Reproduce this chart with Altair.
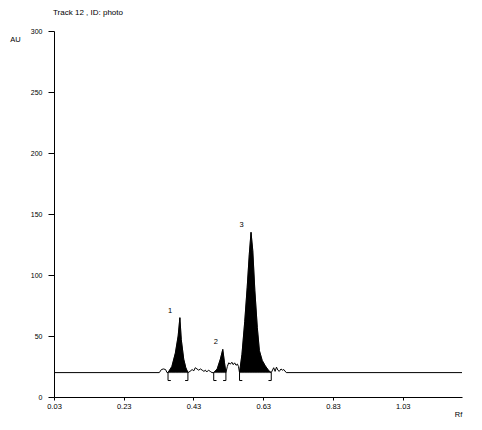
import altair as alt
import pandas as pd

# ---- data ----
rf = [0.03, 0.332, 0.338, 0.344, 0.350, 0.354,
      0.357, 0.368, 0.378, 0.386, 0.391, 0.395, 0.402, 0.408, 0.414,
      0.420, 0.426, 0.431, 0.435, 0.440, 0.445, 0.450, 0.455, 0.460, 0.464, 0.468, 0.473, 0.478, 0.483,
      0.488, 0.498, 0.507, 0.514, 0.519, 0.523,
      0.527, 0.531, 0.536, 0.540, 0.544, 0.548, 0.552, 0.556, 0.559,
      0.562, 0.569, 0.577, 0.584, 0.590, 0.595, 0.600, 0.606, 0.613, 0.619, 0.627, 0.636, 0.646, 0.653,
      0.660, 0.664, 0.668, 0.672, 0.676, 0.681, 0.685, 0.689, 0.696, 1.2]
au = [20, 20, 22.5, 23, 22.5, 20,
      20, 25, 36, 50, 65, 47, 31, 24, 20,
      21, 22.5, 21.5, 24, 23, 22, 23, 22, 21, 22, 20.5, 22, 21, 20,
      20, 23, 31, 39, 28, 20,
      25, 28, 27, 28.5, 26.5, 28, 26, 27, 25,
      20, 35, 62, 90, 117, 135, 120, 87, 57, 38, 30, 25.5, 21.5, 20,
      24, 21, 24.5, 22, 21, 23, 22, 22.5, 20, 20]

peak_id = ["1", "2", "3"]
peak_start = [0.357, 0.488, 0.562]
peak_end = [0.414, 0.523, 0.653]
peak_height = [65, 39, 135]

baseline_au = 20
bracket_low_au = 13.5
bracket_foot = 0.008

x_ticks = [0.03, 0.23, 0.43, 0.63, 0.83, 1.03]
y_ticks = [0, 50, 100, 150, 200, 250, 300]

title_text = ["Track  12 , ID: photo"]

FONT = "Liberation Sans"

# ---- tables ----
trace = pd.DataFrame({"rf": rf, "au": au})

fill_rows = []
for pid, s, e in zip(peak_id, peak_start, peak_end):
    for r, a in zip(rf, au):
        if s - 1e-9 <= r <= e + 1e-9:
            fill_rows.append({"rf": r, "au": a, "base": baseline_au, "peak": pid})
fill_df = pd.DataFrame(fill_rows)

vert_rows, foot_rows = [], []
for s, e in zip(peak_start, peak_end):
    vert_rows.append({"rf": s, "y1": baseline_au, "y2": bracket_low_au})
    vert_rows.append({"rf": e, "y1": baseline_au, "y2": bracket_low_au})
    foot_rows.append({"x1": s, "x2": s + bracket_foot, "y": bracket_low_au})
    foot_rows.append({"x1": e - bracket_foot, "x2": e, "y": bracket_low_au})
verts = pd.DataFrame(vert_rows)
feet = pd.DataFrame(foot_rows)

labels = pd.DataFrame({"rf": peak_start, "au": peak_height, "label": peak_id})
title_df = pd.DataFrame({"t": title_text})

xscale = alt.Scale(domain=[0.03, 1.2], nice=False, zero=False)
yscale = alt.Scale(domain=[0, 300], nice=False)

xaxis = alt.Axis(values=x_ticks, format=".2f", title="Rf", grid=False,
                 domainColor="black", tickColor="black", labelColor="black",
                 labelFont=FONT, labelFontSize=7.5, tickSize=3, labelPadding=2,
                 labelFlush=False, titleFont=FONT, titleFontSize=7.5, titleFontWeight="normal",
                 titleColor="black", titleAngle=0, titleX=404, titleY=17,
                 titleAlign="center", titleBaseline="middle")
yaxis = alt.Axis(values=y_ticks, title="AU", grid=False,
                 domainColor="black", tickColor="black", labelColor="black",
                 labelFont=FONT, labelFontSize=7, tickSize=6, labelPadding=6,
                 titleFont=FONT, titleFontSize=7.5, titleFontWeight="normal",
                 titleColor="black", titleAngle=0, titleX=-39, titleY=8,
                 titleAlign="center", titleBaseline="middle")

x_enc = alt.X("rf:Q", scale=xscale, axis=xaxis)
y_enc = alt.Y("au:Q", scale=yscale, axis=yaxis)

areas = [
    alt.Chart(fill_df).transform_filter(alt.datum.peak == pid)
    .mark_area(fill="black", stroke="black", strokeWidth=0.5, fillOpacity=1)
    .encode(x=x_enc, y=y_enc, y2=alt.Y2("base:Q"))
    for pid in peak_id
]
line = alt.Chart(trace).mark_line(color="black", strokeWidth=1).encode(
    x=x_enc, y=y_enc, order="rf:Q"
)
vrule = alt.Chart(verts).mark_rule(color="black", strokeWidth=1).encode(
    x=x_enc, y=alt.Y("y1:Q", scale=yscale, axis=yaxis), y2="y2:Q"
)
frule = alt.Chart(feet).mark_rule(color="black", strokeWidth=1).encode(
    x=alt.X("x1:Q", scale=xscale, axis=xaxis), x2="x2:Q",
    y=alt.Y("y:Q", scale=yscale, axis=yaxis)
)
text = alt.Chart(labels).mark_text(font=FONT, fontSize=7.5, color="#000000",
                                   baseline="bottom", align="center", dx=2, dy=-3).encode(
    x=x_enc, y=y_enc, text="label:N"
)
title = alt.Chart(title_df).mark_text(font=FONT, fontSize=8, color="#000000",
                                      align="left", baseline="top").encode(
    x=alt.value(-1), y=alt.value(-22.5), text="t:N"
)

chart = alt.layer(*areas, line, vrule, frule, text, title).properties(
    width=408, height=366,
    padding={"left": 46, "top": 23, "right": 12, "bottom": 25},
    autosize=alt.AutoSizeParams(type="none"),
    background="white",
).configure_view(stroke=None)

chart.save("out.html", embed_options={"renderer": "svg", "actions": False})
